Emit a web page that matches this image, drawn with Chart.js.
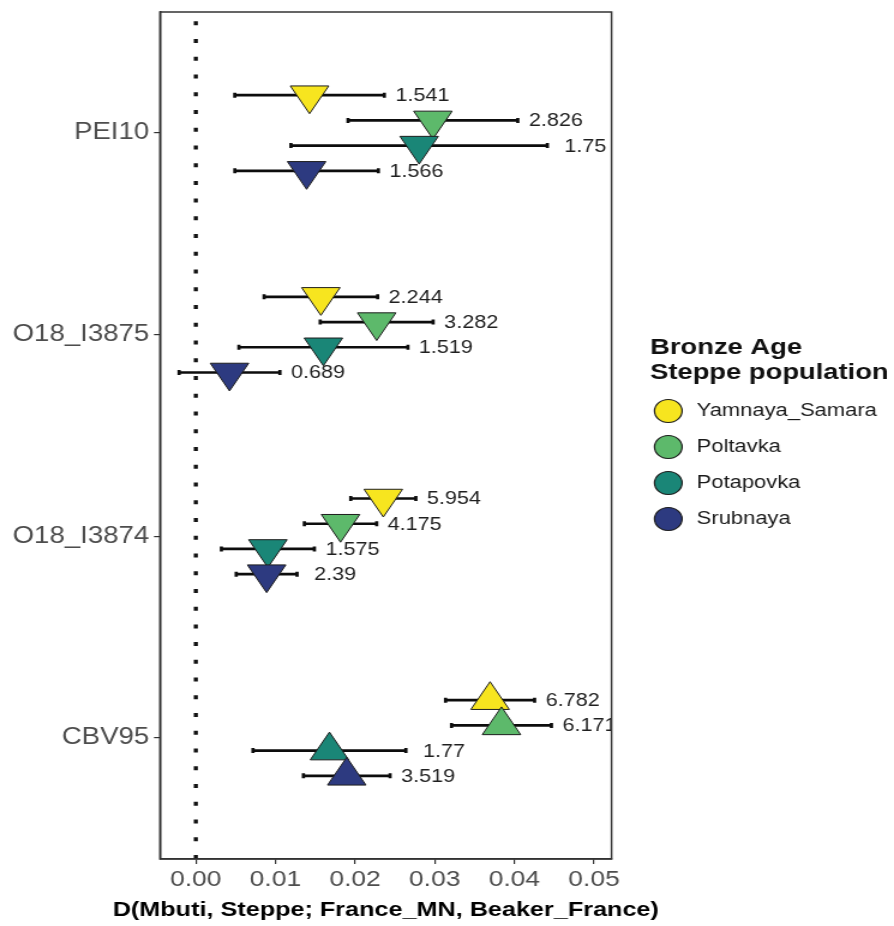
<!DOCTYPE html>
<html>
<head>
<meta charset="utf-8">
<script src="https://cdn.jsdelivr.net/npm/chart.js@4.4.1/dist/chart.umd.min.js"></script>
<style>
  html, body { margin: 0; padding: 0; background: #ffffff; overflow: hidden; }
  #wrap {
    position: absolute; left: 0; top: 0;
    width: 745px; height: 926px;
    transform: scaleX(1.2); transform-origin: 0 0;
  }
</style>
</head>
<body>
<div id="wrap"><canvas id="chart"></canvas></div>
<script>
// Samples on the y axis, top to bottom
const samples = ['PEI10', 'O18_I3875', 'O18_I3874', 'CBV95'];

// Bronze Age steppe populations (legend order)
const populations = ['Yamnaya_Samara', 'Poltavka', 'Potapovka', 'Srubnaya'];

// D-statistic estimates per population, one value per sample
const dYamnaya   = [0.01428, 0.01570, 0.02354, 0.03695];
const dPoltavka  = [0.02977, 0.02271, 0.01817, 0.03838];
const dPotapovka = [0.02804, 0.01602, 0.00905, 0.01678];
const dSrubnaya  = [0.01391, 0.00423, 0.00889, 0.01895];

// Standard errors (half-width of each error bar)
const seYamnaya   = [0.00939, 0.00713, 0.00409, 0.00559];
const sePoltavka  = [0.01066, 0.00709, 0.00454, 0.00627];
const sePotapovka = [0.01610, 0.01061, 0.00584, 0.00960];
const seSrubnaya  = [0.00901, 0.00633, 0.00382, 0.00544];

// Z-scores printed next to each bar
const zYamnaya   = ['1.541', '2.244', '5.954', '6.782'];
const zPoltavka  = ['2.826', '3.282', '4.175', '6.171'];
const zPotapovka = ['1.75',  '1.519', '1.575', '1.77'];
const zSrubnaya  = ['1.566', '0.689', '2.39',  '3.519'];

// x axis ticks
const xTickValues = [0, 0.01, 0.02, 0.03, 0.04, 0.05];
const xTickLabels = ['0.00', '0.01', '0.02', '0.03', '0.04', '0.05'];
const xTitle = 'D(Mbuti, Steppe; France_MN, Beaker_France)';

// Samples drawn with upward-pointing triangles
const upSamples = ['CBV95'];

const colors = ['#F7E51F', '#5DB96B', '#1A8677', '#2D3A80'];
const estimates = [dYamnaya, dPoltavka, dPotapovka, dSrubnaya];
const errors = [seYamnaya, sePoltavka, sePotapovka, seSrubnaya];
const zLabels = [zYamnaya, zPoltavka, zPotapovka, zSrubnaya];

const FONT = "'Liberation Sans', Arial, Helvetica, sans-serif";
Chart.defaults.font.family = FONT;

// vertical dodge of the four populations inside a sample row
const DODGE = 0.125;
const dodgeOffset = s => (s - (populations.length - 1) / 2) * DODGE;

const pointDatasets = populations.map((name, s) => ({
  type: 'scatter',
  label: name,
  order: -s,
  data: samples.map((smp, i) => ({ x: estimates[s][i], y: i + 1 + dodgeOffset(s), sample: smp })),
  pointStyle: 'triangle',
  rotation: ctx => (ctx.raw && upSamples.includes(ctx.raw.sample)) ? 0 : 180,
  pointRadius: 18.5,
  backgroundColor: colors[s],
  borderColor: '#1e1e1e',
  borderWidth: 1
}));

// dotted reference line at D = 0
const zeroLine = {
  type: 'line',
  label: 'zero',
  order: 10,
  data: [{ x: 0, y: 4.6 }, { x: 0, y: 0.4 }],
  borderColor: '#111111',
  borderWidth: 3.4,
  borderDash: [4, 13.74],
  borderCapStyle: 'butt',
  pointRadius: 0,
  fill: false
};

const errorBarPlugin = {
  id: 'errorBars',
  beforeDatasetsDraw(chart) {
    const { ctx, scales: { x, y } } = chart;
    ctx.save();
    ctx.strokeStyle = '#0d0d0d';
    ctx.lineWidth = 2.7;
    populations.forEach((p, s) => {
      samples.forEach((smp, i) => {
        const py = y.getPixelForValue(i + 1 + dodgeOffset(s));
        const x1 = x.getPixelForValue(estimates[s][i] - errors[s][i]);
        const x2 = x.getPixelForValue(estimates[s][i] + errors[s][i]);
        ctx.beginPath();
        ctx.moveTo(x1, py); ctx.lineTo(x2, py);
        ctx.moveTo(x1, py - 2.5); ctx.lineTo(x1, py + 2.5);
        ctx.moveTo(x2, py - 2.5); ctx.lineTo(x2, py + 2.5);
        ctx.stroke();
      });
    });
    ctx.restore();
  }
};

const zLabelPlugin = {
  id: 'zLabels',
  afterDatasetsDraw(chart) {
    const { ctx, chartArea: a, scales: { x, y } } = chart;
    ctx.save();
    ctx.beginPath();
    ctx.rect(a.left, a.top, a.right - a.left, a.bottom - a.top);
    ctx.clip();
    ctx.font = `18px ${FONT}`;
    ctx.fillStyle = '#1f1f1f';
    ctx.textAlign = 'center';
    ctx.textBaseline = 'middle';
    populations.forEach((p, s) => {
      samples.forEach((smp, i) => {
        const py = y.getPixelForValue(i + 1 + dodgeOffset(s));
        const x2 = x.getPixelForValue(estimates[s][i] + errors[s][i]);
        ctx.fillText(zLabels[s][i], x2 + 31.7, py + 1);
      });
    });
    ctx.restore();
  }
};

// panel frame plus the x-axis title centred under the panel
const framePlugin = {
  id: 'panelFrame',
  afterDraw(chart) {
    const { ctx, chartArea: a } = chart;
    ctx.save();
    ctx.strokeStyle = '#333333';
    ctx.lineWidth = 1.5;
    ctx.strokeRect(a.left, a.top, a.right - a.left, a.bottom - a.top);
    ctx.font = `bold 21px ${FONT}`;
    ctx.fillStyle = '#000000';
    ctx.textAlign = 'center';
    ctx.textBaseline = 'middle';
    ctx.fillText(xTitle, (a.left + a.right) / 2, 910.5);
    ctx.restore();
  }
};

const legendPlugin = {
  id: 'populationLegend',
  afterDraw(chart) {
    const { ctx } = chart;
    const left = 541.7;
    ctx.save();
    ctx.fillStyle = '#111111';
    ctx.textAlign = 'left';
    ctx.textBaseline = 'alphabetic';
    ctx.font = `bold 22.8px ${FONT}`;
    ctx.fillText('Bronze Age', left, 354);
    ctx.fillText('Steppe population', left, 379);
    ctx.font = `18.3px ${FONT}`;
    ctx.textBaseline = 'middle';
    populations.forEach((name, s) => {
      const cy = 411 + s * 36;
      ctx.beginPath();
      ctx.arc(556.9, cy, 11.5, 0, Math.PI * 2);
      ctx.fillStyle = colors[s];
      ctx.fill();
      ctx.lineWidth = 1.2;
      ctx.strokeStyle = '#1e1e1e';
      ctx.stroke();
      ctx.fillStyle = '#1a1a1a';
      ctx.fillText(name, 580.6, cy);
    });
    ctx.restore();
  }
};

new Chart(document.getElementById('chart'), {
  data: { datasets: [zeroLine, ...pointDatasets] },
  options: {
    responsive: true,
    maintainAspectRatio: false,
    animation: false,
    events: [],
    layout: { autoPadding: false, padding: { left: 0, right: 235.4, top: 12, bottom: 0 } },
    plugins: { legend: { display: false }, tooltip: { enabled: false } },
    scales: {
      x: {
        type: 'linear',
        min: -0.0045,
        max: 0.0522,
        afterBuildTicks: axis => { axis.ticks = xTickValues.map(v => ({ value: v })); },
        afterFit: axis => { axis.height = 67; axis.paddingLeft = 0; axis.paddingRight = 0; },
        ticks: {
          autoSkip: false,
          maxRotation: 0,
          color: '#4d4d4d',
          font: { size: 22 },
          padding: 3,
          callback: (v, i) => xTickLabels[i]
        },
        grid: { drawOnChartArea: false, drawTicks: true, tickLength: 5, color: '#333333', lineWidth: 1.2 },
        border: { display: true, color: '#333333', width: 1.5 }
      },
      y: {
        type: 'linear',
        reverse: true,
        min: 0.4,
        max: 4.6,
        afterBuildTicks: axis => { axis.ticks = samples.map((s, i) => ({ value: i + 1 })); },
        afterFit: axis => { axis.width = 133.3; axis.paddingTop = 0; axis.paddingBottom = 0; },
        ticks: {
          autoSkip: false,
          color: '#4d4d4d',
          font: { size: 23 },
          padding: 4,
          callback: v => samples[v - 1]
        },
        grid: { drawOnChartArea: false, drawTicks: true, tickLength: 5, color: '#333333', lineWidth: 1.2 },
        border: { display: true, color: '#333333', width: 1.5 }
      }
    }
  },
  plugins: [errorBarPlugin, zLabelPlugin, framePlugin, legendPlugin]
});
</script>
</body>
</html>
